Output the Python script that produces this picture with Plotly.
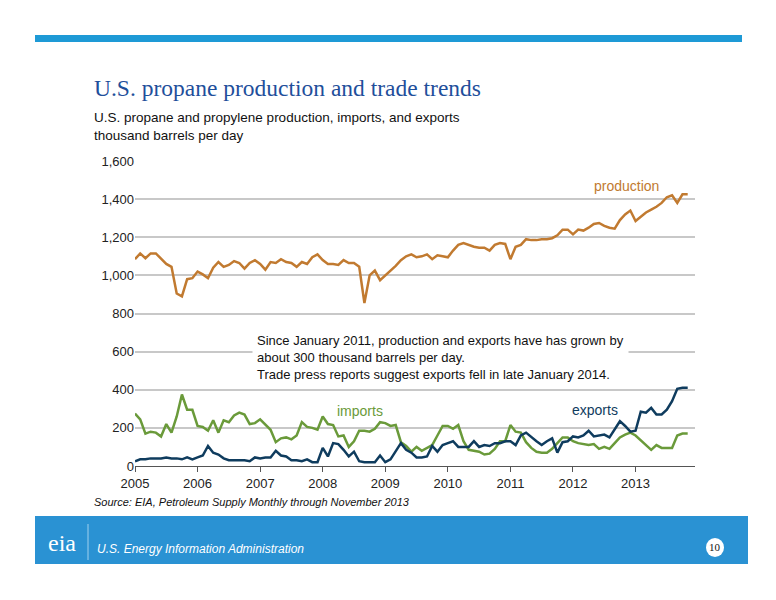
import plotly.graph_objects as go

years = list(range(2005, 2014))
production = [
 1085,1115,1090,1115,1115,1090,1060,1045,905,890,980,985,
 1020,1005,985,1040,1070,1045,1055,1075,1065,1035,1065,1080,
 1060,1030,1070,1065,1085,1070,1065,1045,1070,1060,1095,1110,
 1080,1060,1060,1055,1080,1065,1065,1045,855,1000,1025,975,
 1000,1020,1050,1080,1100,1110,1095,1100,1110,1085,1105,1100,
 1095,1130,1160,1170,1160,1150,1145,1145,1130,1160,1170,1165,
 1085,1150,1160,1190,1185,1185,1190,1190,1195,1210,1240,1240,
 1215,1240,1235,1250,1270,1275,1260,1250,1245,1290,1320,1340,
 1285,1310,1330,1345,1360,1380,1410,1420,1380,1425,1425]
imports = [
 275,245,170,180,175,155,220,175,260,375,295,295,
 210,205,185,240,175,240,230,265,280,270,220,225,
 245,215,190,125,145,150,140,160,230,205,200,190,
 260,220,215,155,160,100,130,185,185,180,195,230,
 225,210,215,125,105,75,100,80,95,110,160,210,
 210,195,215,130,85,80,75,60,65,90,130,130,
 215,180,175,125,95,75,70,70,90,120,150,150,
 130,120,115,110,115,90,100,90,120,150,165,175,
 160,135,110,85,110,95,95,95,160,170,170]
exports = [
 25,35,35,40,40,40,45,40,40,35,45,35,
 45,55,105,70,60,40,30,30,30,30,25,45,
 40,45,45,80,55,50,30,30,25,35,20,20,
 95,50,120,115,85,50,75,25,20,20,20,55,
 20,35,80,120,85,70,45,45,50,105,75,110,
 120,130,100,100,100,130,100,110,105,120,120,130,
 130,110,160,175,150,130,110,130,145,70,125,130,
 155,150,160,185,155,160,165,150,195,235,210,180,
 185,285,280,305,270,270,295,340,405,410,410]
n = len(production)
x = [2005 + i / 12 for i in range(n)]

OFF = 8
def px(v):
    return (v - OFF) / 776
def py(v):
    return 1 - (v - OFF) / 600

fig = go.Figure()
for name, vals, col in [("production", production, "#c17a30"),
                        ("imports", imports, "#6a9a3a"),
                        ("exports", exports, "#0f3c5e")]:
    fig.add_trace(go.Scatter(x=x[:len(vals)], y=vals, mode="lines", name=name,
                             line=dict(color=col, width=2.5), showlegend=False))

fig.update_layout(
    width=776, height=600, margin=dict(l=0, r=0, t=0, b=0, autoexpand=False),
    paper_bgcolor="white", plot_bgcolor="white",
    font=dict(family="Liberation Sans, Arial", color="#222"),
    xaxis=dict(domain=[px(135), px(695)], range=[2005, 2013.95], automargin=False,
               tickvals=years, ticktext=[str(y) for y in years],
               ticks="outside", ticklen=5, tickcolor="#555",
               showline=True, linecolor="#555", showgrid=False,
               tickfont=dict(size=13)),
    yaxis=dict(domain=[py(466), py(161)], range=[0, 1600], automargin=False,
               tickvals=list(range(0, 1601, 200)),
               ticktext=[f"{v:,}" for v in range(0, 1601, 200)],
               showgrid=True, gridcolor="#c8c8c8", gridwidth=1.5,
               zeroline=False, tickfont=dict(size=13)),
    shapes=[
        dict(type="rect", xref="paper", yref="paper", x0=px(35), x1=px(742),
             y0=py(42), y1=py(35), fillcolor="#1e9ad6", line_width=0),
        dict(type="rect", xref="paper", yref="paper", x0=px(35), x1=px(748),
             y0=py(564), y1=py(516), fillcolor="#2a92d3", line_width=0),
        dict(type="circle", xref="paper", yref="paper", x0=px(476+230), x1=px(724),
             y0=py(557), y1=py(538), fillcolor="white", line_width=0),
        dict(type="line", xref="paper", yref="paper", x0=px(88), x1=px(88),
             y0=py(560), y1=py(524), line=dict(color="#9fd0ee", width=1)),
    ],
    annotations=[
        dict(xref="paper", yref="paper", x=px(92), y=py(88), xanchor="left",
             yanchor="middle", showarrow=False,
             text="U.S. propane production and trade trends",
             font=dict(family="Liberation Serif, Times New Roman", size=23.5, color="#1f4f9b")),
        dict(xref="paper", yref="paper", x=px(92), y=py(126), xanchor="left",
             yanchor="middle", showarrow=False, align="left",
             text="U.S. propane and propylene production, imports, and exports<br>thousand barrels per day",
             font=dict(size=13.5, color="#111")),
        dict(xref="paper", yref="paper", x=px(252), y=py(357), xanchor="left",
             yanchor="middle", showarrow=False, align="left", bgcolor="white",
             borderpad=4,
             text="Since January 2011, production and exports have has grown by<br>about 300 thousand barrels per day.<br>Trade press reports suggest exports fell in late January 2014.",
             font=dict(size=13, color="#111")),
        dict(x=2012.85, y=1470, text="production", showarrow=False,
             font=dict(size=14, color="#c17a30")),
        dict(x=2008.6, y=290, text="imports", showarrow=False,
             font=dict(size=14, color="#6a9a3a")),
        dict(x=2012.35, y=295, text="exports", showarrow=False,
             font=dict(size=14, color="#0f3c5e")),
        dict(xref="paper", yref="paper", x=px(92), y=py(502), xanchor="left",
             yanchor="middle", showarrow=False,
             text="<i>Source: EIA, Petroleum Supply Monthly through November 2013</i>",
             font=dict(size=11, color="#111")),
        dict(xref="paper", yref="paper", x=px(95), y=py(549), xanchor="left",
             yanchor="middle", showarrow=False,
             text="<i>U.S. Energy Information Administration</i>",
             font=dict(size=12, color="white")),
        dict(xref="paper", yref="paper", x=px(62), y=py(543), xanchor="center",
             yanchor="middle", showarrow=False, text="eia",
             font=dict(family="Liberation Serif", size=24, color="white")),
        dict(xref="paper", yref="paper", x=px(715), y=py(547), xanchor="center",
             yanchor="middle", showarrow=False, text="10",
             font=dict(family="Liberation Serif", size=11, color="#111")),
    ],
)
fig.write_html("out.html")
